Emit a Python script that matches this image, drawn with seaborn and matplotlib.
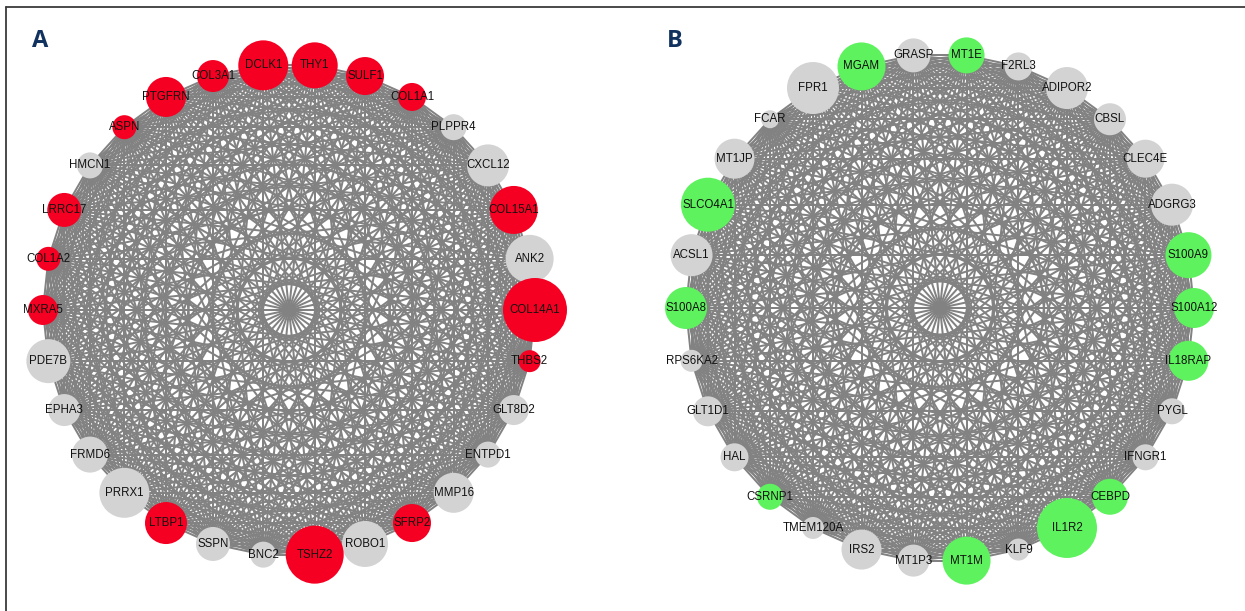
import numpy as np
import pandas as pd
import matplotlib
matplotlib.use("Agg")
import matplotlib.pyplot as plt
import seaborn as sns
from matplotlib.collections import LineCollection
from matplotlib.lines import Line2D
from itertools import combinations

# Panel A - nodes clockwise from top
genes_a = ["DCLK1", "THY1", "SULF1", "COL1A1", "PLPPR4", "CXCL12", "COL15A1",
           "ANK2", "COL14A1", "THBS2", "GLT8D2", "ENTPD1", "MMP16", "SFRP2",
           "ROBO1", "TSHZ2", "BNC2", "SSPN", "LTBP1", "PRRX1", "FRMD6", "EPHA3",
           "PDE7B", "MXRA5", "COL1A2", "LRRC17", "HMCN1", "ASPN", "PTGFRN", "COL3A1"]
size_a = [50, 46, 38, 28, 26, 42, 48, 48, 64, 22, 30, 26, 40, 38, 46,
          58, 26, 34, 42, 50, 36, 32, 44, 30, 24, 34, 26, 24, 40, 32]
hub_a = [1, 1, 1, 1, 0, 0, 1, 0, 1, 1, 0, 0, 0, 1, 0,
         1, 0, 0, 1, 0, 0, 0, 0, 1, 1, 1, 0, 1, 1, 1]

# Panel B - nodes clockwise from top
genes_b = ["GRASP", "MT1E", "F2RL3", "ADIPOR2", "CBSL", "CLEC4E", "ADGRG3",
           "S100A9", "S100A12", "IL18RAP", "PYGL", "IFNGR1", "CEBPD", "IL1R2",
           "KLF9", "MT1M", "MT1P3", "IRS2", "TMEM120A", "CSRNP1", "HAL", "GLT1D1",
           "RPS6KA2", "S100A8", "ACSL1", "SLCO4A1", "MT1JP", "FCAR", "FPR1", "MGAM"]
size_b = [34, 36, 28, 42, 32, 38, 42, 46, 40, 40, 26, 26, 36, 60, 22,
          48, 32, 40, 22, 26, 28, 30, 22, 42, 42, 54, 40, 18, 52, 48]
hub_b = [0, 1, 0, 0, 0, 0, 0, 1, 1, 1, 0, 0, 1, 1, 0,
         1, 0, 0, 0, 1, 0, 0, 0, 1, 0, 1, 0, 0, 0, 1]

sns.set_style("white")
plt.rcParams['font.family'] = ['Liberation Sans', 'DejaVu Sans']

fig = plt.figure(figsize=(12.45, 6.11), dpi=100)
ax = fig.add_axes([0, 0, 1, 1])
ax.set_xlim(0, 1245)
ax.set_ylim(611, 0)
ax.axis("off")


def draw_network(genes, sizes, hubs, cx, cy, r, hub_color):
    n = len(genes)
    ang = np.deg2rad(-180 / n + 360 / n * np.arange(n))
    df = pd.DataFrame({
        "gene": genes,
        "x": cx + r * np.sin(ang),
        "y": cy - r * np.cos(ang),
        "hub": hubs,
        "s": (np.array(sizes) * 0.72) ** 2,
    })
    # complete graph edges
    segs = [[(df.x[i], df.y[i]), (df.x[j], df.y[j])]
            for i, j in combinations(range(n), 2)]
    ax.add_collection(LineCollection(segs, colors="#828282", linewidths=1.45, zorder=1))
    sns.scatterplot(data=df, x="x", y="y", hue="hub", size="s",
                    palette={1: hub_color, 0: "#d3d3d3"},
                    sizes=(df.s.min(), df.s.max()), size_norm=(df.s.min(), df.s.max()),
                    edgecolor="none", linewidth=0, legend=False, zorder=3, ax=ax)
    for _, row in df.iterrows():
        ax.text(row.x, row.y, row.gene, ha="center", va="center",
                fontsize=8.3, color="#111111", zorder=4)


draw_network(genes_a, size_a, hub_a, 289, 310, 246, "#f50022")
draw_network(genes_b, size_b, hub_b, 940, 308, 254, "#5ef25e")

ax.set_xlim(0, 1245)
ax.set_ylim(611, 0)

fig.text(40 / 1245, 1 - 41 / 611, "A", fontsize=17, fontweight="bold",
         color="#11325f", family="Open Sans", ha="center", va="center")
fig.text(675 / 1245, 1 - 41 / 611, "B", fontsize=17, fontweight="bold",
         color="#11325f", family="Open Sans", ha="center", va="center")

# frame lines on top and left
fig.add_artist(Line2D([6 / 1245, 1], [1 - 7 / 611, 1 - 7 / 611], color="#3a3a3a", lw=1.3))
fig.add_artist(Line2D([6 / 1245, 6 / 1245], [0, 1 - 7 / 611], color="#3a3a3a", lw=1.3))

plt.savefig("out.png", dpi=100)
